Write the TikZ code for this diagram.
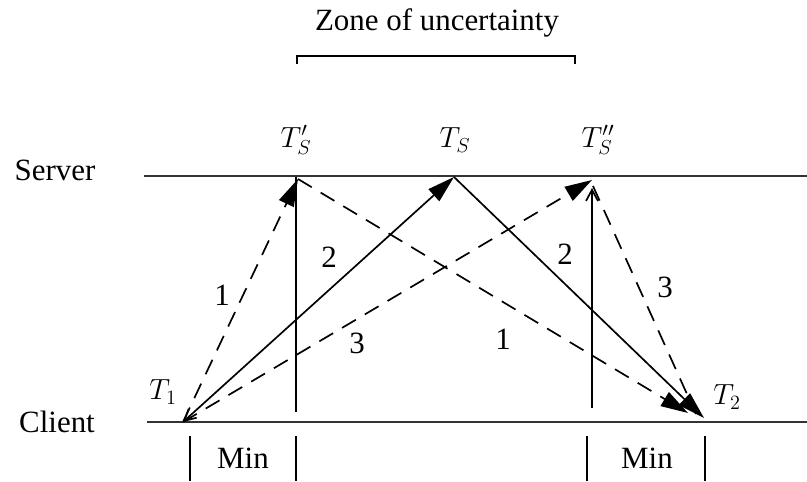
\documentclass[tikz,border=0pt]{standalone}
\usepackage{fontspec}
\setmainfont{Liberation Serif}
\usetikzlibrary{arrows.meta}
\tikzset{bigtip/.tip={Triangle[length=0.68cm,width=0.4cm]},
  thintip/.tip={Straight Barb[length=0.28cm,width=0.3cm]},
  lbl/.style={font=\fontsize{22}{26}\selectfont,inner sep=1pt},
  timeline/.style={line width=1.9pt,black!80},
  msg/.style={line width=1.2pt,-bigtip},
  msgdash/.style={msg,dash pattern=on 0.4cm off 0.26cm},
  tickline/.style={line width=1.2pt}}
\begin{document}
\begin{tikzpicture}[x=0.025cm,y=-0.025cm]
\useasboundingbox (0,0) rectangle (807,481);
% server and client time lines
\coordinate (srvL) at (144,176); \coordinate (srvR) at (807,176);
\coordinate (cliL) at (147,422); \coordinate (cliR) at (807,422);
\draw[timeline] (srvL) -- (srvR);
\draw[timeline] (cliL) -- (cliR);
\node[lbl] (server) at (55,170) {Server};
\node[lbl] (client) at (57,422) {Client};
% instants
\coordinate (T1) at (183,422);
\coordinate (TSa) at (298,179);
\coordinate (TS) at (454,177);
\coordinate (TSb) at (592,180);
\coordinate (TSb2) at (593,186);
\coordinate (T2a) at (688,413);
\coordinate (T2) at (704,418);
\coordinate (T2c) at (696,414);
\node[lbl] (lT1) at (163,392) {$T_1$};
\node[lbl] (lT2) at (727,397) {$T_2$};
\node[lbl] (lTSa) at (296,140) {$T'_S$};
\node[lbl] (lTS) at (455,140) {$T_S$};
\node[lbl] (lTSb) at (598,140) {$T''_S$};
% zone of uncertainty
\node[lbl] (zone) at (437,23) {Zone of uncertainty};
\coordinate (zL) at (297,64); \coordinate (zR) at (575,64);
\coordinate (zRt) at (575,56);
\draw[tickline] (zL) |- (zRt) -- (zR);
% minimum delay marks
\coordinate (vA) at (296,412); \coordinate (vAt) at (296,177);
\coordinate (vB) at (592,408); \coordinate (vBt) at (592,188);
\draw[tickline] (vA) -- (vAt);
\draw[tickline,-thintip] (vB) -- (vBt);
\foreach \x/\n in {190/a,296/b,587/c,705/d}{
  \coordinate (m\n) at (\x,436); \coordinate (m\n b) at (\x,481);
  \draw[tickline] (m\n) -- (m\n b);
}
\node[lbl] (min1) at (243,458) {Min};
\node[lbl] (min2) at (647,458) {Min};
% messages
\draw[msgdash] (T1) -- (TSa);
\draw[msgdash] (TSa) -- (T2a);
\draw[msg,thintip-bigtip] (T1) -- (TS);
\draw[msg] (TS) -- (T2);
\draw[msgdash] (T1) -- (TSb);
\draw[msgdash,-] (TSb2) -- (T2c);
\node[lbl] (n1a) at (222,295) {1};
\node[lbl] (n1b) at (503,339) {1};
\node[lbl] (n2a) at (329,257) {2};
\node[lbl] (n2b) at (565,254) {2};
\node[lbl] (n3a) at (357,343) {3};
\node[lbl] (n3b) at (665,287) {3};
\end{tikzpicture}
\end{document}
